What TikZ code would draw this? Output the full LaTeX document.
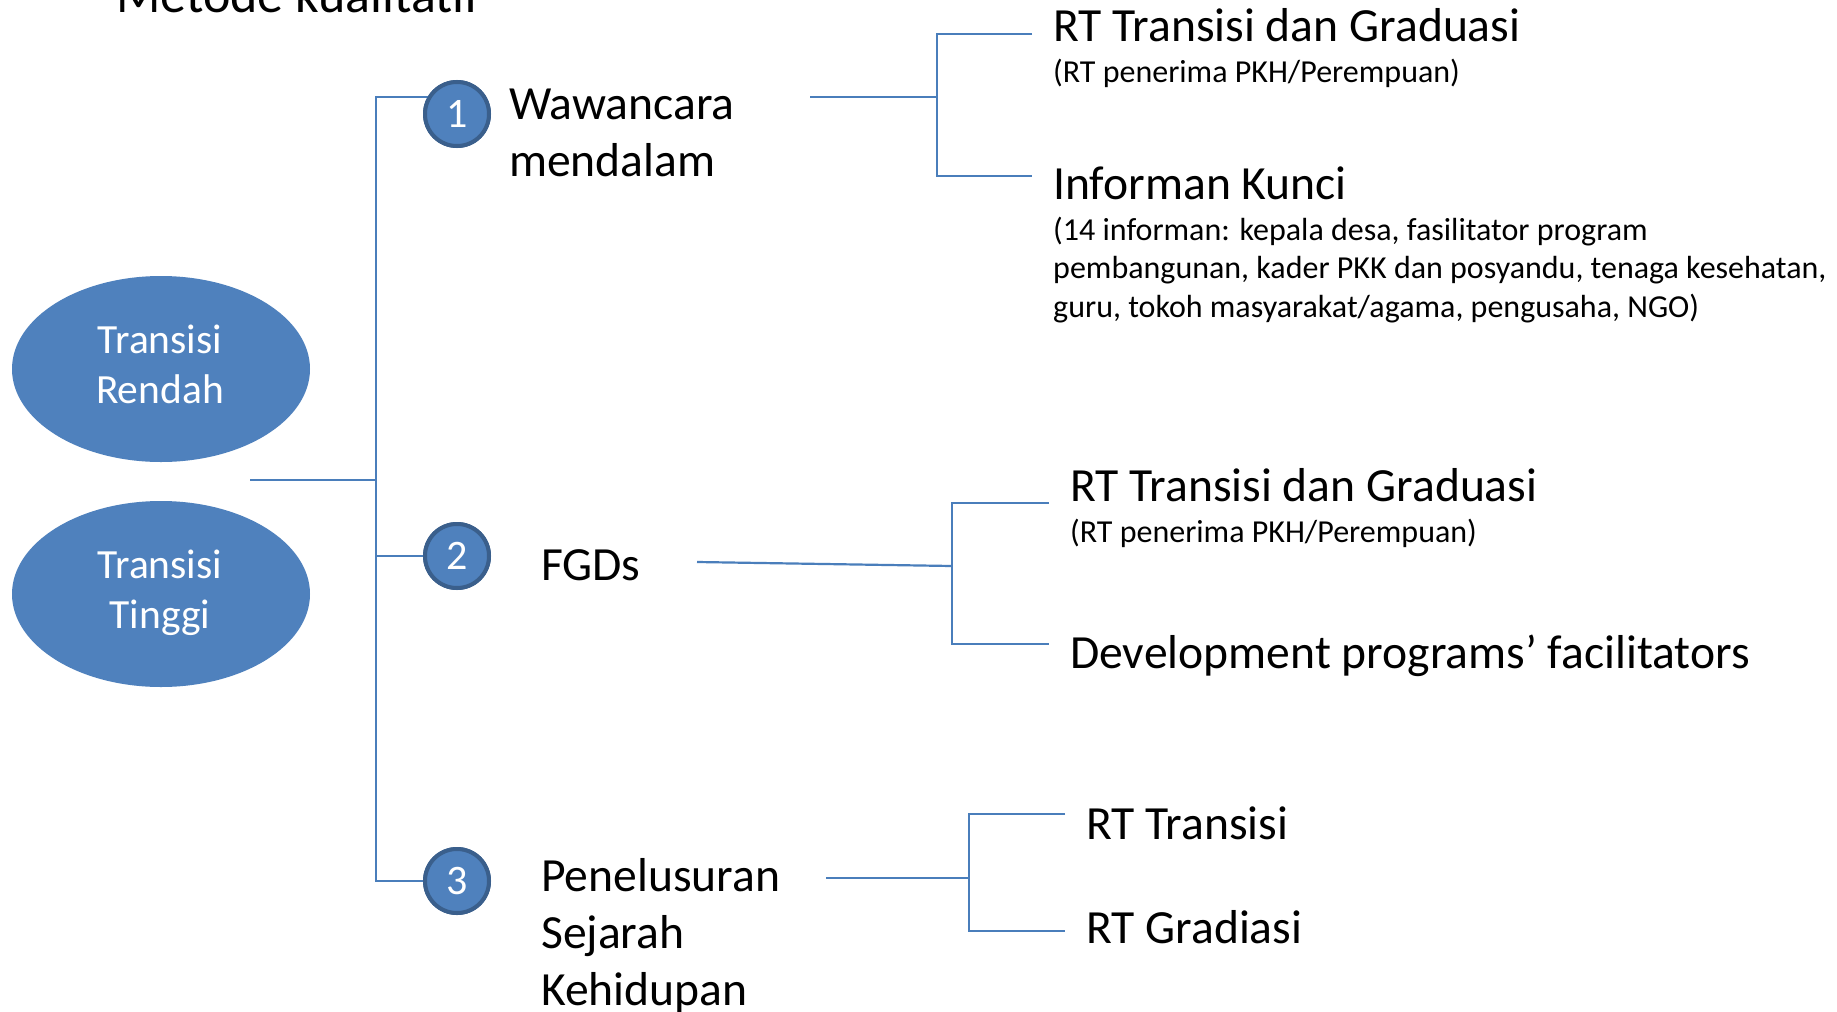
\documentclass[tikz,border=0pt]{standalone}
\usepackage{fontspec}
\setmainfont{Carlito}
\usetikzlibrary{shapes.geometric}
\definecolor{accent}{RGB}{79,129,189}
\definecolor{ring}{RGB}{58,95,140}
\definecolor{linecol}{RGB}{74,126,187}
\newcommand{\lns}[1]{\begin{tabular}[t]{@{}l@{}}#1\end{tabular}}
\newcommand{\clns}[1]{\begin{tabular}[t]{@{}c@{}}#1\end{tabular}}
\begin{document}
\begin{tikzpicture}[x=1pt,y=-1pt,
  conn/.style={draw=linecol,line width=2.2pt},
  oval/.style={ellipse,fill=accent,minimum width=298pt,minimum height=186pt,inner sep=0pt},
  ovaltext/.style={anchor=base,inner sep=0pt,text=white,font=\fontsize{41.5}{50}\selectfont},
  numc/.style={circle,fill=accent,draw=ring,line width=4pt,minimum size=64pt,inner sep=0pt,text=white,font=\fontsize{42}{42}\selectfont},
  big/.style={anchor=base west,inner sep=0pt,font=\fontsize{47.6}{57}\selectfont},
  small/.style={anchor=base west,inner sep=0pt,font=\fontsize{32}{38.6}\selectfont},
  ttl/.style={anchor=base west,inner sep=0pt,font=\fontsize{52}{60}\selectfont},
]
\clip (0,0) rectangle (1837,1012);
\fill[white] (0,0) rectangle (1837,1012);

% title (cut off at the top, as in the reference)
\node[ttl] (title) at (116,12) {Metode kualitatif};

% ovals
\node[oval] (e1) at (161,369) {};
\node[oval] (e2) at (161,594) {};
\node[ovaltext] (e1t) at (160,353) {\clns{Transisi\\Rendah}};
\node[ovaltext] (e2t) at (160,578) {\clns{Transisi\\Tinggi}};

% numbered circles
\coordinate (tb) at (376,881);
\coordinate (ej) at (250,480);
\node[numc] (c1) at (457,114) {1};
\node[numc] (c2) at (457,556) {2};
\node[numc] (c3) at (457,881) {3};

% trunk connectors
\draw[conn] (c1.150) -| (tb) -- (c3.west);
\draw[conn] (c2.west) -- (c2.west -| tb);
\draw[conn] (ej) -- (ej -| tb);

% method labels
\node[big] (w) at (509,119) {\lns{Wawancara\\mendalam}};
\node[big] (f) at (541,580) {FGDs};
\node[big] (p) at (541,891) {\lns{Penelusuran\\Sejarah\\Kehidupan}};

% branch 1
\coordinate (b1l) at (810,97);
\coordinate (b1m) at (937,97);
\coordinate (b1t) at (1032,34);
\coordinate (b1b) at (1032,176);
\draw[conn] (b1l) -- (b1m);
\draw[conn] (b1t) -- (b1t -| b1m) -- (b1b -| b1m) -- (b1b);
\node[big] (r1) at (1053,41) {RT Transisi dan Graduasi};
\node[small] (r1s) at (1053,82) {(RT penerima PKH/Perempuan)};
\node[big] (r2) at (1053,199) {Informan Kunci};
\node[small] (r2s) at (1053,240) {\lns{(14 informan: kepala desa, fasilitator program\\pembangunan, kader PKK dan posyandu, tenaga kesehatan,\\guru, tokoh masyarakat/agama, pengusaha, NGO)}};

% branch 2
\coordinate (b2l) at (697,562);
\coordinate (b2m) at (952,566);
\coordinate (b2t) at (1049,503);
\coordinate (b2b) at (1049,644);
\draw[conn] (b2l) -- (b2m);
\draw[conn] (b2t) -- (b2t -| b2m) -- (b2b -| b2m) -- (b2b);
\node[big] (r3) at (1070,501) {RT Transisi dan Graduasi};
\node[small] (r3s) at (1070,542) {(RT penerima PKH/Perempuan)};
\node[big] (r4) at (1070,668) {Development programs’ facilitators};

% branch 3
\coordinate (b3l) at (826,878);
\coordinate (b3m) at (969,878);
\coordinate (b3t) at (1065,814);
\coordinate (b3b) at (1065,931);
\draw[conn] (b3l) -- (b3m);
\draw[conn] (b3t) -- (b3t -| b3m) -- (b3b -| b3m) -- (b3b);
\node[big] (r5) at (1086,839) {RT Transisi};
\node[big] (r6) at (1086,943) {RT Gradiasi};

% circles again, on top of the trunk lines
\node[numc] at (c1) {1};
\node[numc] at (c2) {2};
\node[numc] at (c3) {3};
\end{tikzpicture}
\end{document}
